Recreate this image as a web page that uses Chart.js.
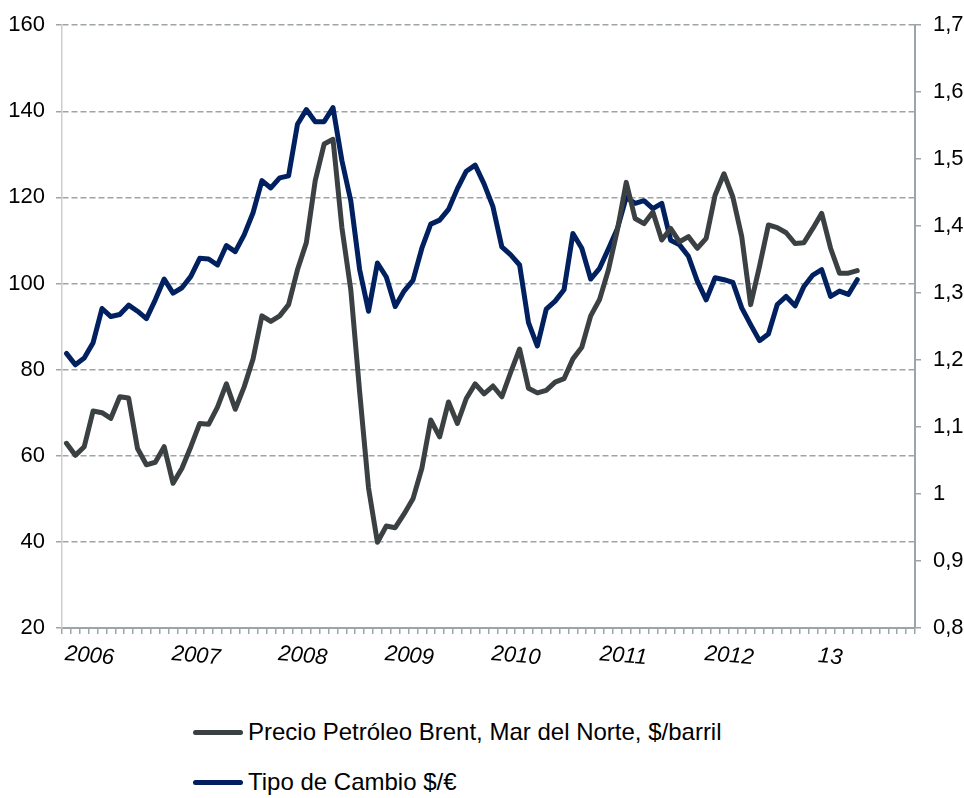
<!DOCTYPE html>
<html>
<head>
<meta charset="utf-8">
<script src="https://cdn.jsdelivr.net/npm/chart.js@4.4.0/dist/chart.umd.min.js"></script>
<style>
  body { margin: 0; background: #fff; font-family: "Liberation Sans", Arial, sans-serif; }
  #wrap { position: relative; width: 964px; height: 798px; }
  #caja { position: absolute; left: 0; top: 0; width: 964px; height: 690px; }
  #leyenda { position: absolute; left: 193px; top: 715px; font-size: 24px; color: #000; }
  .item { display: flex; align-items: center; height: 34px; margin-bottom: 16px; }
  .muestra { width: 50px; height: 5px; border-radius: 3px; margin-right: 5px; }
</style>
</head>
<body>
<div id="wrap">
  <div id="caja"><canvas id="grafico"></canvas></div>
  <div id="leyenda"></div>
</div>
<script>
// meses ene-2006 .. dic-2013 (el eje llega a fin de 2013)
const anios = ["2006", "2007", "2008", "2009", "2010", "2011", "2012", "13"];
const meses = ["ene", "feb", "mar", "abr", "may", "jun", "jul", "ago", "sep", "oct", "nov", "dic"];
const categorias = anios.flatMap((a) => meses.map((m) => m + "-" + a));

// Precio Petróleo Brent, $/barril (ene-06 .. jun-13)
const brent = [
  62.9, 60.1, 62.1, 70.4, 70.0, 68.7, 73.7, 73.4, 61.7, 57.9, 58.5, 62.1,
  53.6, 57.1, 62.1, 67.5, 67.3, 71.3, 76.7, 70.8, 76.0, 82.5, 92.5, 91.2,
  92.5, 95.1, 103.2, 109.5, 123.9, 132.4, 133.5, 113.0, 98.6, 74.8, 52.5, 39.9,
  43.7, 43.3, 46.5, 50.0, 57.1, 68.3, 64.4, 72.5, 67.5, 73.3, 76.7, 74.4,
  76.2, 73.7, 79.4, 84.8, 75.7, 74.6, 75.2, 77.1, 77.9, 82.5, 85.2, 92.5,
  96.3, 103.2, 112.4, 123.5, 115.1, 113.9, 116.6, 110.1, 112.8, 109.7, 110.9, 108.2,
  110.5, 120.5, 125.5, 120.1, 110.9, 95.1, 104.0, 113.6, 113.0, 111.8, 109.3, 109.5,
  112.8, 116.3, 108.2, 102.4, 102.4, 103.0
];

// Tipo de cambio $/€ (ene-06 .. jun-13)
const cambio = [
  1.210, 1.193, 1.203, 1.226, 1.277, 1.265, 1.268, 1.282, 1.273, 1.262, 1.290, 1.321,
  1.300, 1.308, 1.325, 1.352, 1.351, 1.342, 1.371, 1.362, 1.387, 1.420, 1.468, 1.457,
  1.472, 1.475, 1.552, 1.574, 1.556, 1.556, 1.577, 1.498, 1.438, 1.335, 1.273, 1.345,
  1.324, 1.280, 1.303, 1.319, 1.367, 1.403, 1.409, 1.425, 1.456, 1.482, 1.491, 1.463,
  1.429, 1.369, 1.357, 1.342, 1.256, 1.221, 1.276, 1.288, 1.305, 1.389, 1.367, 1.321,
  1.337, 1.366, 1.396, 1.443, 1.434, 1.438, 1.426, 1.434, 1.379, 1.372, 1.355, 1.318,
  1.290, 1.323, 1.320, 1.316, 1.278, 1.253, 1.229, 1.239, 1.283, 1.295, 1.281, 1.310,
  1.327, 1.335, 1.295, 1.303, 1.298, 1.320
];

const series = [
  { nombre: "Precio Petróleo Brent, Mar del Norte, $/barril", datos: brent, color: "#3b4143", eje: "y" },
  { nombre: "Tipo de Cambio $/€", datos: cambio, color: "#002060", eje: "y1" }
];

const fuente = { family: "'Liberation Sans', Arial, sans-serif", size: 22 };
const gris = "#9ea5a8";

// etiqueta del año: bajo junio (las cortas, como "13", un poco antes)
function etiquetaAnio(valor, i) {
  const anio = anios[Math.floor(i / 12)];
  const mes = anio.length === 2 ? 3 : 5;
  return i % 12 === mes ? anio : "";
}

function crearLeyenda() {
  const leyenda = document.getElementById("leyenda");
  leyenda.innerHTML = series
    .map(
      (s) => `
    <div class="item">
      <span class="muestra" style="background:${s.color}"></span>
      <span>${s.nombre}</span>
    </div>`
    )
    .join("");
}

function crearGrafico() {
  const ctx = document.getElementById("grafico").getContext("2d");

  new Chart(ctx, {
    type: "line",
    data: {
      labels: categorias,
      datasets: series.map((s) => ({
        label: s.nombre,
        data: s.datos,
        borderColor: s.color,
        backgroundColor: s.color,
        borderWidth: 5,
        pointRadius: 0,
        tension: 0,
        yAxisID: s.eje,
        borderJoinStyle: "round",
        borderCapStyle: "round",
      })),
    },
    options: {
      responsive: true,
      maintainAspectRatio: false,
      animation: false,
      layout: { padding: { top: 20 } },
      plugins: {
        legend: { display: false },
        tooltip: { enabled: false },
      },
      scales: {
        x: {
          offset: true,
          afterFit: (scale) => { scale.height = 62; },
          grid: { offset: true, drawOnChartArea: false, color: gris, tickLength: 6, lineWidth: 1.5 },
          border: { color: gris, width: 2 },
          ticks: {
            autoSkip: false,
            minRotation: -5,
            maxRotation: -5,
            padding: 11,
            labelOffset: 3,
            color: "#000",
            font: { ...fuente, style: "italic" },
            callback: etiquetaAnio,
          },
        },
        y: {
          position: "left",
          min: 20,
          max: 160,
          afterFit: (scale) => { scale.width = 62; },
          grid: { color: gris, lineWidth: 1.5, tickLength: 6 },
          border: { color: "#c9ced1", dash: [6, 3], width: 1.5 },
          ticks: { stepSize: 20, padding: 11, color: "#000", font: fuente },
        },
        y1: {
          position: "right",
          min: 0.8,
          max: 1.7,
          afterFit: (scale) => { scale.width = 49; },
          grid: { drawOnChartArea: false, color: gris, tickLength: 6, lineWidth: 1.5 },
          border: { color: gris, width: 2 },
          ticks: {
            stepSize: 0.1,
            padding: 12,
            color: "#000",
            font: fuente,
            callback: (v) => String(Math.round(v * 10) / 10).replace(".", ","),
          },
        },
      },
    },
  });
}

document.addEventListener("DOMContentLoaded", () => {
  crearLeyenda();
  crearGrafico();
});
</script>
</body>
</html>
